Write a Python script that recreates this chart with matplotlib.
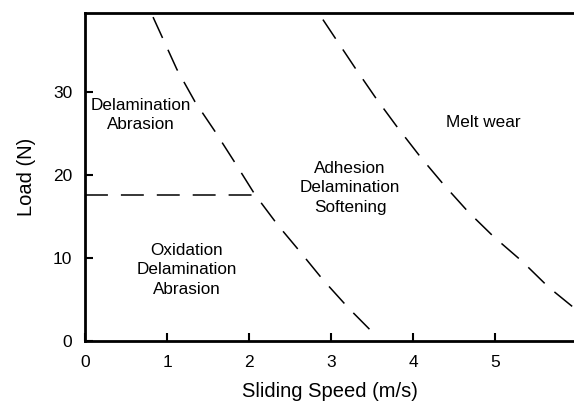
import matplotlib
matplotlib.use("Agg")
import matplotlib.pyplot as plt

plt.rcParams['font.family'] = ['Liberation Sans', 'DejaVu Sans']

# boundary between low-speed regimes and adhesion regime
b1_speed = [0.83, 1.12, 1.34, 1.585, 1.83, 2.07, 2.35, 2.62, 2.90, 3.21, 3.51]
b1_load = [39.1, 32.8, 28.9, 25.3, 21.5, 17.7, 14.0, 10.8, 7.4, 4.0, 1.0]

# boundary to melt wear
b2_speed = [2.90, 3.29, 3.54, 3.80, 4.09, 4.37, 4.67, 4.98, 5.33, 5.65, 5.96]
b2_load = [38.8, 33.0, 29.4, 25.9, 22.2, 18.9, 15.6, 12.6, 9.6, 6.5, 4.0]

# horizontal boundary between the two low-speed regimes
h_speed = [0.0, 2.08]
h_load = [17.6, 17.6]

regions = ["Delamination\nAbrasion", "Oxidation\nDelamination\nAbrasion",
           "Adhesion\nDelamination\nSoftening", "Melt wear"]
region_x = [0.68, 1.24, 3.23, 4.85]
region_y = [27.3, 8.6, 18.5, 26.4]

fig = plt.figure(figsize=(5.74, 4.05), dpi=100)
ax = fig.add_axes([0.148, 0.158, 0.852, 0.810])

dash = dict(color='black', lw=1.1, dashes=(15, 8.5))
ax.plot(b1_speed, b1_load, **dash)
ax.plot(b2_speed, b2_load, **dash)
ax.plot(h_speed, h_load, **dash)

for lab, x, y in zip(regions, region_x, region_y):
    ax.text(x, y, lab, ha='center', va='center', fontsize=12.3, linespacing=1.38)

ax.set_xlim(0, 5.96)
ax.set_ylim(0, 39.6)
ax.set_xticks([0, 1, 2, 3, 4, 5])
ax.set_yticks([0, 10, 20, 30])
ax.tick_params(direction='in', length=6, width=1.5, labelsize=12.5)
ax.tick_params(axis='x', pad=10)
ax.tick_params(axis='y', pad=9)
for s in ['left', 'bottom', 'top']:
    ax.spines[s].set_linewidth(2)
ax.spines['right'].set_visible(False)

ax.set_xlabel("Sliding Speed (m/s)", fontsize=14.5, labelpad=9)
ax.set_ylabel("Load (N)", fontsize=14.5, labelpad=12)

plt.savefig("out.png", dpi=100)
plt.close()
